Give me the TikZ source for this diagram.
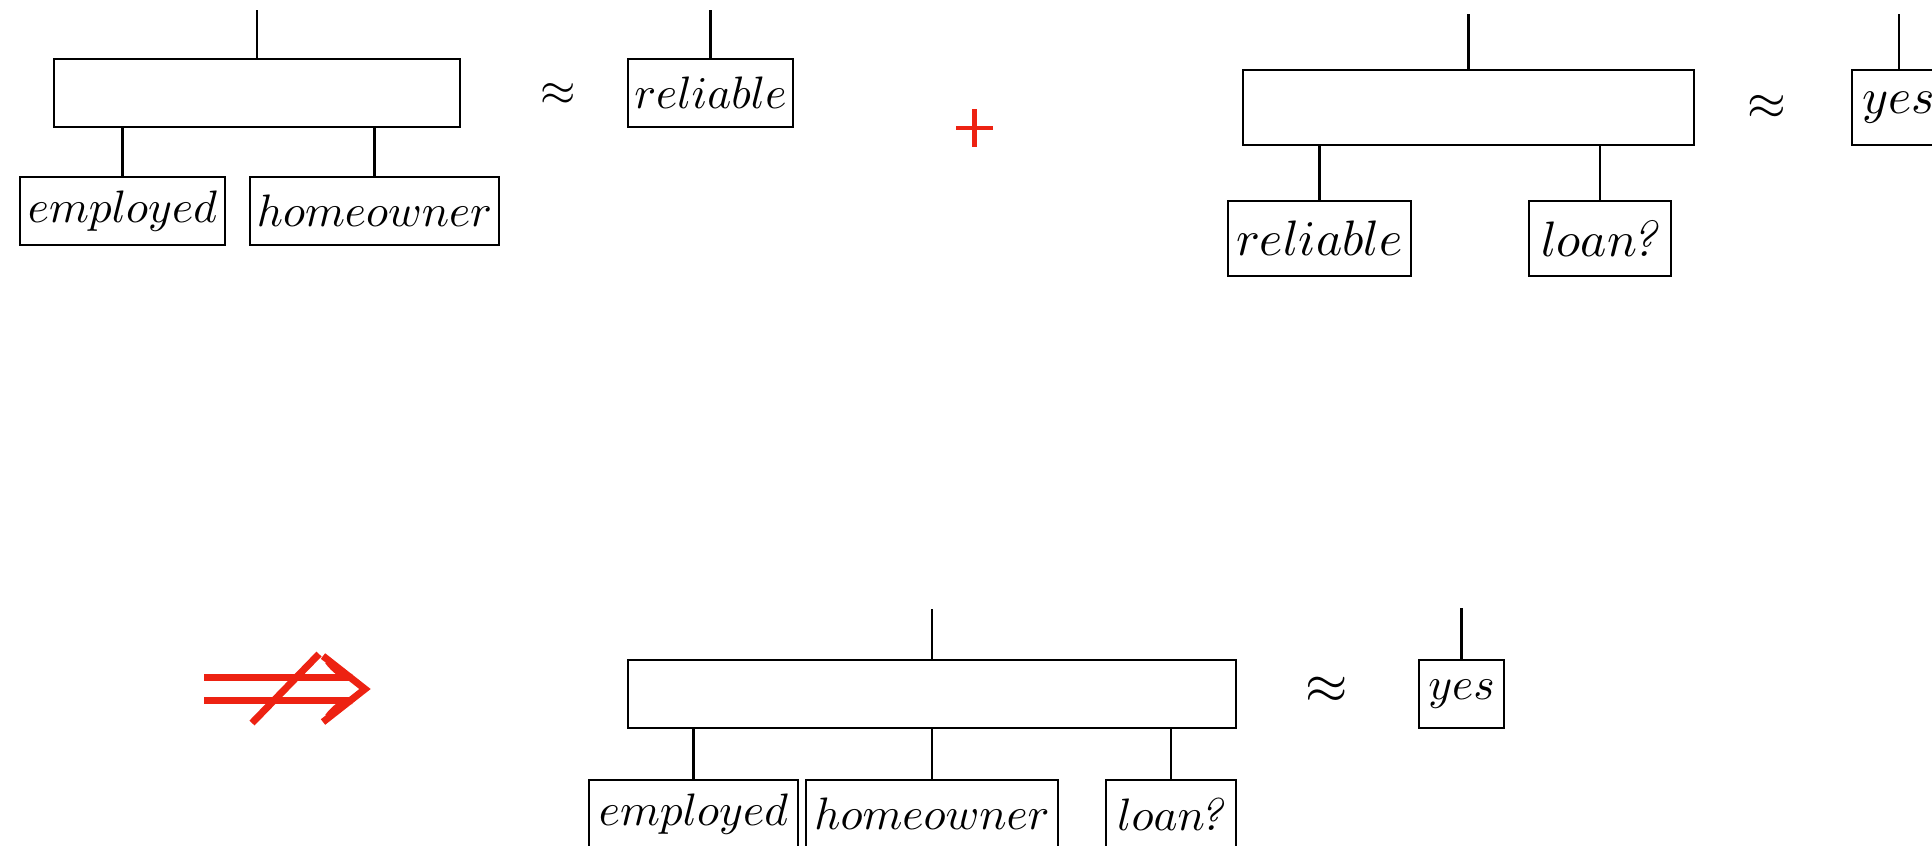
\documentclass[tikz,border=0pt]{standalone}
\usepackage{amsmath}
\definecolor{accent}{RGB}{237,34,18}
\newcommand{\loanq}{$loan$\kern-1.2pt\textit{?}}
\begin{document}
\begin{tikzpicture}[x=0.22pt,y=-0.22pt,
  box/.style={draw, line width=0.5pt, inner sep=0pt, rectangle},
  sz/.style 2 args={minimum width=#1*0.22pt, minimum height=#2*0.22pt},
  stem/.style={line width=0.5pt},
  large/.style={font=\fontsize{11.1}{13}\selectfont},
  redline/.style={accent, line width=1.55pt}]
\useasboundingbox (0,0) rectangle (1932,845);

% ---- first tree: employed, homeowner -> reliable
\node[box, sz={406}{68}] (bigA) at (257,93) {};
\node[box, sz={205}{68}] (empA) at (122.5,211) {$employed$};
\node[box, sz={249}{68}] (homA) at (374.5,211) {$homeowner$};
\coordinate (topA) at (257,10);
\draw[stem] (topA) -- (bigA.north);
\draw[stem] (empA.north) -- (empA.north |- bigA.south);
\draw[stem] (homA.north) -- (homA.north |- bigA.south);
\node (apA) at (558,95) {$\approx$};
\node[box, sz={165}{68}] (relA) at (710.5,93) {$reliable$};
\coordinate (topR) at (710.5,10);
\draw[stem] (topR) -- (relA.north);

% ---- plus sign
\coordinate (plus) at (974.5,128);
\draw[accent, line width=0.9pt] (plus) ++(-18.5,0) -- ++(37,0);
\draw[accent, line width=0.9pt] (plus) ++(0,-19) -- ++(0,38);

% ---- second tree: reliable, loan? -> yes
\node[box, sz={451}{75}] (bigB) at (1468.5,107.5) {};
\node[box, large, sz={183}{75}] (relB) at (1319.5,238.5) {$reliable$};
\node[box, large, sz={142}{75}] (loanB) at (1600,238.5) {\loanq};
\coordinate (topB) at (1468.5,14);
\draw[stem] (topB) -- (bigB.north);
\draw[stem] (relB.north) -- (relB.north |- bigB.south);
\draw[stem] (loanB.north) -- (loanB.north |- bigB.south);
\node[large] (apB) at (1767,107) {$\approx$};
\node[box, large, sz={94}{75}] (yesB) at (1899,107.5) {$yes$};
\coordinate (topY) at (1899,14);
\draw[stem] (topY) -- (yesB.north);

% ---- does-not-imply arrow
\coordinate (arr) at (204,689);
\draw[redline] (arr) ++(0,-11.5) -- ++(146,0);
\draw[redline] (arr) ++(0,11.5) -- ++(146,0);
\draw[redline, line join=miter] (arr) ++(119,-33) -- ++(42,33) -- ++(-42,33);
\draw[redline] (arr) ++(124,-28) .. controls ++(6,8) and ++(-8,0) .. ++(24,16.5);
\draw[redline] (arr) ++(124,28) .. controls ++(6,-8) and ++(-8,0) .. ++(24,-16.5);
\draw[redline] (arr) ++(48,34) -- ++(67,-69);

% ---- combined tree: employed, homeowner, loan? -> yes
\node[box, sz={608}{68}] (bigC) at (932,694) {};
\node[box, sz={209}{68}] (empC) at (693.5,814) {$employed$};
\node[box, sz={252}{68}] (homC) at (932,814) {$homeowner$};
\node[box, sz={130}{68}] (loanC) at (1171,814) {\loanq};
\coordinate (topC) at (932,609);
\draw[stem] (topC) -- (bigC.north);
\draw[stem] (empC.north) -- (empC.north |- bigC.south);
\draw[stem] (homC.north) -- (homC.north |- bigC.south);
\draw[stem] (loanC.north) -- (loanC.north |- bigC.south);
\node[font=\fontsize{11.5}{14}\selectfont] (apC) at (1327,690) {$\approx$};
\node[box, sz={85}{68}] (yesC) at (1461.5,694) {$yes$};
\coordinate (topYC) at (1461.5,608);
\draw[stem] (topYC) -- (yesC.north);
\end{tikzpicture}
\end{document}
